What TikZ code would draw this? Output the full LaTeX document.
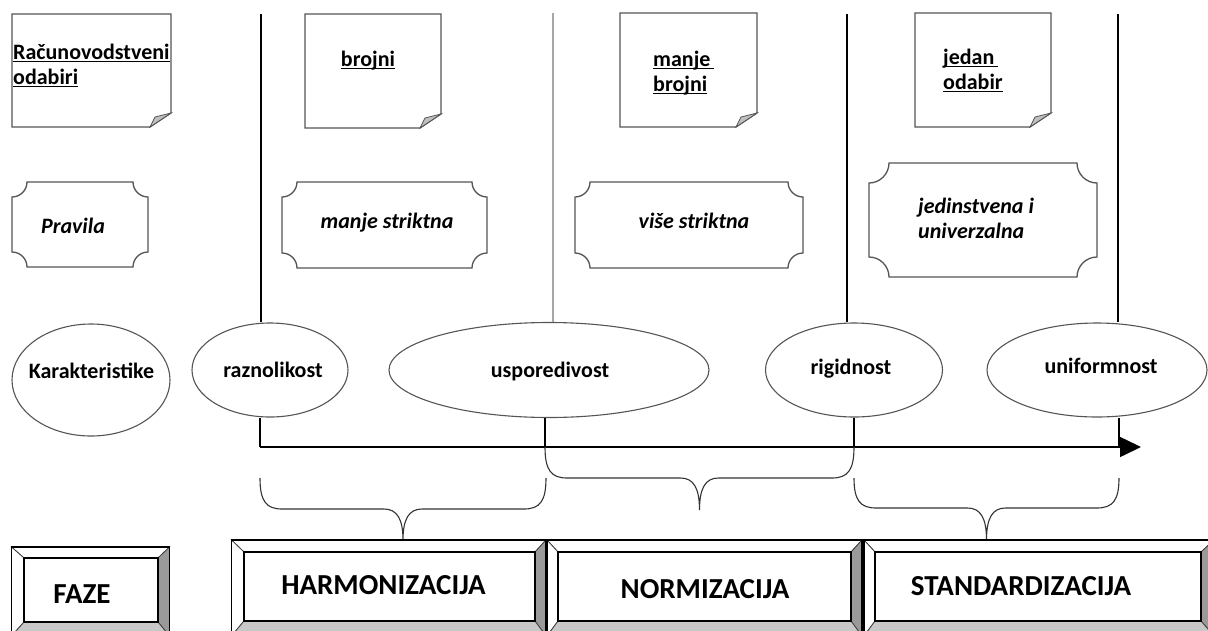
\documentclass[tikz,border=0pt]{standalone}
\usepackage{fontspec}
\setmainfont{Carlito}
\usetikzlibrary{arrows.meta,shapes.geometric}
\definecolor{bevR}{HTML}{9A9A9A}
\definecolor{bevB}{HTML}{C8C8C8}
\definecolor{edgeG}{HTML}{555555}
\definecolor{lineG}{HTML}{A6A6A6}
\newcommand\ulx[1]{\setbox0=\hbox{#1}\rlap{\rule[-2.8pt]{\wd0}{1.1pt}}\box0}
\newcommand\twol[2]{\vtop{\hbox{#1}\hbox{#2}}}
% note with folded corner: x1 y1 x2 y2
\newcommand\notebox[4]{%
  \draw[notec] (#1,#2) -- (#3,#2) -- (#3,#4-14) -- (#3-21,#4) -- (#1,#4) -- cycle;
  \filldraw[foldc] (#3-21,#4) -- (#3-16,#4-10) -- (#3,#4-14) -- cycle;}
% plaque: x1 y1 x2 y2 r
\newcommand\plaque[5]{%
  \draw[plaquec] (#1+#5,#2) -- (#3-#5,#2)
    .. controls (#3-#5,#2+0.55*#5) and (#3-0.55*#5,#2+#5) .. (#3,#2+#5)
    -- (#3,#4-#5)
    .. controls (#3-0.55*#5,#4-#5) and (#3-#5,#4-0.55*#5) .. (#3-#5,#4)
    -- (#1+#5,#4)
    .. controls (#1+#5,#4-0.55*#5) and (#1+0.55*#5,#4-#5) .. (#1,#4-#5)
    -- (#1,#2+#5)
    .. controls (#1+0.55*#5,#2+#5) and (#1+#5,#2+0.55*#5) .. cycle;}
% bevel box: ox1 oy1 ox2 oy2 ix1 iy1 ix2 iy2
\newcommand\bevelbox[8]{%
  \filldraw[bevelc,fill=white] (#1,#2) -- (#3,#2) -- (#7,#6) -- (#5,#6) -- cycle;
  \filldraw[bevelc,fill=white] (#1,#2) -- (#5,#6) -- (#5,#8) -- (#1,#4) -- cycle;
  \filldraw[bevelc,fill=bevR] (#3,#2) -- (#3,#4) -- (#7,#8) -- (#7,#6) -- cycle;
  \filldraw[bevelc,fill=bevB] (#1,#4) -- (#3,#4) -- (#7,#8) -- (#5,#8) -- cycle;
  \draw[line width=1.6pt] (#1,#2) rectangle (#3,#4);
  \draw[line width=1.5pt] (#5,#6) rectangle (#7,#8);}
% brace: x1 x2 top flat tip
\newcommand\curlyb[5]{%
  \draw[bracec] (#1,#3) .. controls (#1,#4-8) and (#1+6,#4) .. (#1+22,#4)
    -- ({(#1+#2)/2-19},#4) .. controls ({(#1+#2)/2-6},#4) and ({(#1+#2)/2},#4+10) .. ({(#1+#2)/2},#5)
    .. controls ({(#1+#2)/2},#4+10) and ({(#1+#2)/2+6},#4) .. ({(#1+#2)/2+19},#4)
    -- (#2-22,#4) .. controls (#2-6,#4) and (#2,#4-8) .. (#2,#3);}
\begin{document}
\begin{tikzpicture}[x=1pt,y=-1pt,
  lbl/.style={font=\fontsize{22}{25.5}\selectfont\bfseries, inner sep=0},
  plq/.style={font=\fontsize{22}{25.5}\selectfont\bfseries\itshape, inner sep=0},
  big/.style={font=\fontsize{29}{33}\selectfont\bfseries, inner sep=0},
  ell/.style={draw=edgeG, line width=1.1pt, ellipse, inner sep=0},
  notec/.style={draw=edgeG, line width=1.3pt, fill=white},
  foldc/.style={draw=edgeG, line width=0.8pt, fill=black!25},
  plaquec/.style={draw=edgeG, line width=1.3pt, fill=white},
  bevelc/.style={draw=black!75, line width=0.8pt},
  bracec/.style={draw=black!80, line width=1.1pt},
  vline/.style={draw=black, line width=1.4pt},
  gline/.style={draw=lineG, line width=1.6pt},
  axisl/.style={draw=black, line width=1.5pt, -{Triangle[length=21pt,width=20pt]}}]
\useasboundingbox (0,0) rectangle (1208,630);
\fill[white] (0,0) rectangle (1208,630);

% notes (top row)
\notebox{12}{14}{171}{127}
\notebox{305}{14}{441}{128}
\notebox{620}{13}{757}{127}
\notebox{915}{13}{1051}{127}
\node[lbl, anchor=base west] (n1) at (13,59) {\twol{\ulx{Računovodstveni}}{\ulx{odabiri}}};
\node[lbl, anchor=base] (n2) at (368,66) {\ulx{brojni}};
\node[lbl, anchor=base west] (n3) at (653,66) {\twol{\ulx{manje\kern4pt}}{\ulx{brojni}}};
\node[lbl, anchor=base west] (n4) at (943,64) {\twol{\ulx{jedan\kern4pt}}{\ulx{odabir}}};

% plaques (rules)
\plaque{12}{182}{148}{267}{15}
\plaque{282}{182}{487}{268}{15}
\plaque{575}{182}{803}{268}{15}
\plaque{869}{163}{1097}{277}{20}
\node[plq, anchor=base] (p1) at (73,233) {Pravila};
\node[plq, anchor=base] (p2) at (387,228) {manje striktna};
\node[plq, anchor=base] (p3) at (694,228) {više striktna};
\node[plq, anchor=base west] (p4) at (918,213) {\twol{jedinstvena i}{univerzalna}};

% ellipses
\node[ell, minimum width=158, minimum height=112] (kar) at (91,380) {};
\node[ell, minimum width=156, minimum height=94] (raz) at (270,370) {};
\node[ell, minimum width=320, minimum height=95] (usp) at (549,370) {};
\node[ell, minimum width=177, minimum height=94] (rig) at (854,370) {};
\node[ell, minimum width=220, minimum height=94] (uni) at (1097,370) {};
\node[lbl, anchor=base] (karT) at (91.5,378) {Karakteristike};
\node[lbl, anchor=base] (razT) at (273,377) {raznolikost};
\node[lbl, anchor=base] (uspT) at (550,377) {usporedivost};
\node[lbl, anchor=base] (rigT) at (851,374) {rigidnost};
\node[lbl, anchor=base] (uniT) at (1101,373) {uniformnost};

% vertical separators
\coordinate (t1) at (261,14);
\coordinate (t2) at (553,13);
\coordinate (t3) at (847,14);
\coordinate (t4) at (1118,14);
\draw[vline] (t1) -- (t1 |- raz.north);
\draw[gline] (t2) -- (t2 |- usp.north);
\draw[vline] (t3) -- (t3 |- rig.north);
\draw[vline] (t4) -- (t4 |- uni.north);

% axis
\coordinate (a1) at (260,447);
\coordinate (a2) at (545,447);
\coordinate (a3) at (854,447);
\coordinate (a4) at (1119,447);
\coordinate (aend) at (1141,447);
\draw[vline] (raz.south -| a1) -- (a1);
\draw[vline] (usp.south -| a2) -- (a2);
\draw[vline] (rig.south -| a3) -- (a3);
\draw[vline] (uni.south -| a4) -- (a4);
\draw[axisl] (a1) -- (aend);

% braces
\curlyb{260}{546}{478}{509}{540}
\curlyb{545}{854}{447}{478}{510}
\curlyb{854}{1119}{478}{508}{540}

% phase boxes
\bevelbox{11.5}{547}{169.5}{636}{24}{558}{158}{622}
\bevelbox{231.5}{540}{546}{636}{244}{552}{535}{621}
\bevelbox{547}{540}{862}{636}{558}{552}{851}{621}
\bevelbox{864}{540}{1214}{636}{875}{552}{1201}{621}
\node[big, anchor=base] (faze) at (82,603) {FAZE};
\node[big, anchor=base] (harm) at (383.5,594) {HARMONIZACIJA};
\node[big, anchor=base] (norm) at (705,598) {NORMIZACIJA};
\node[big, anchor=base] (stand) at (1021,595) {STANDARDIZACIJA};
\end{tikzpicture}
\end{document}
